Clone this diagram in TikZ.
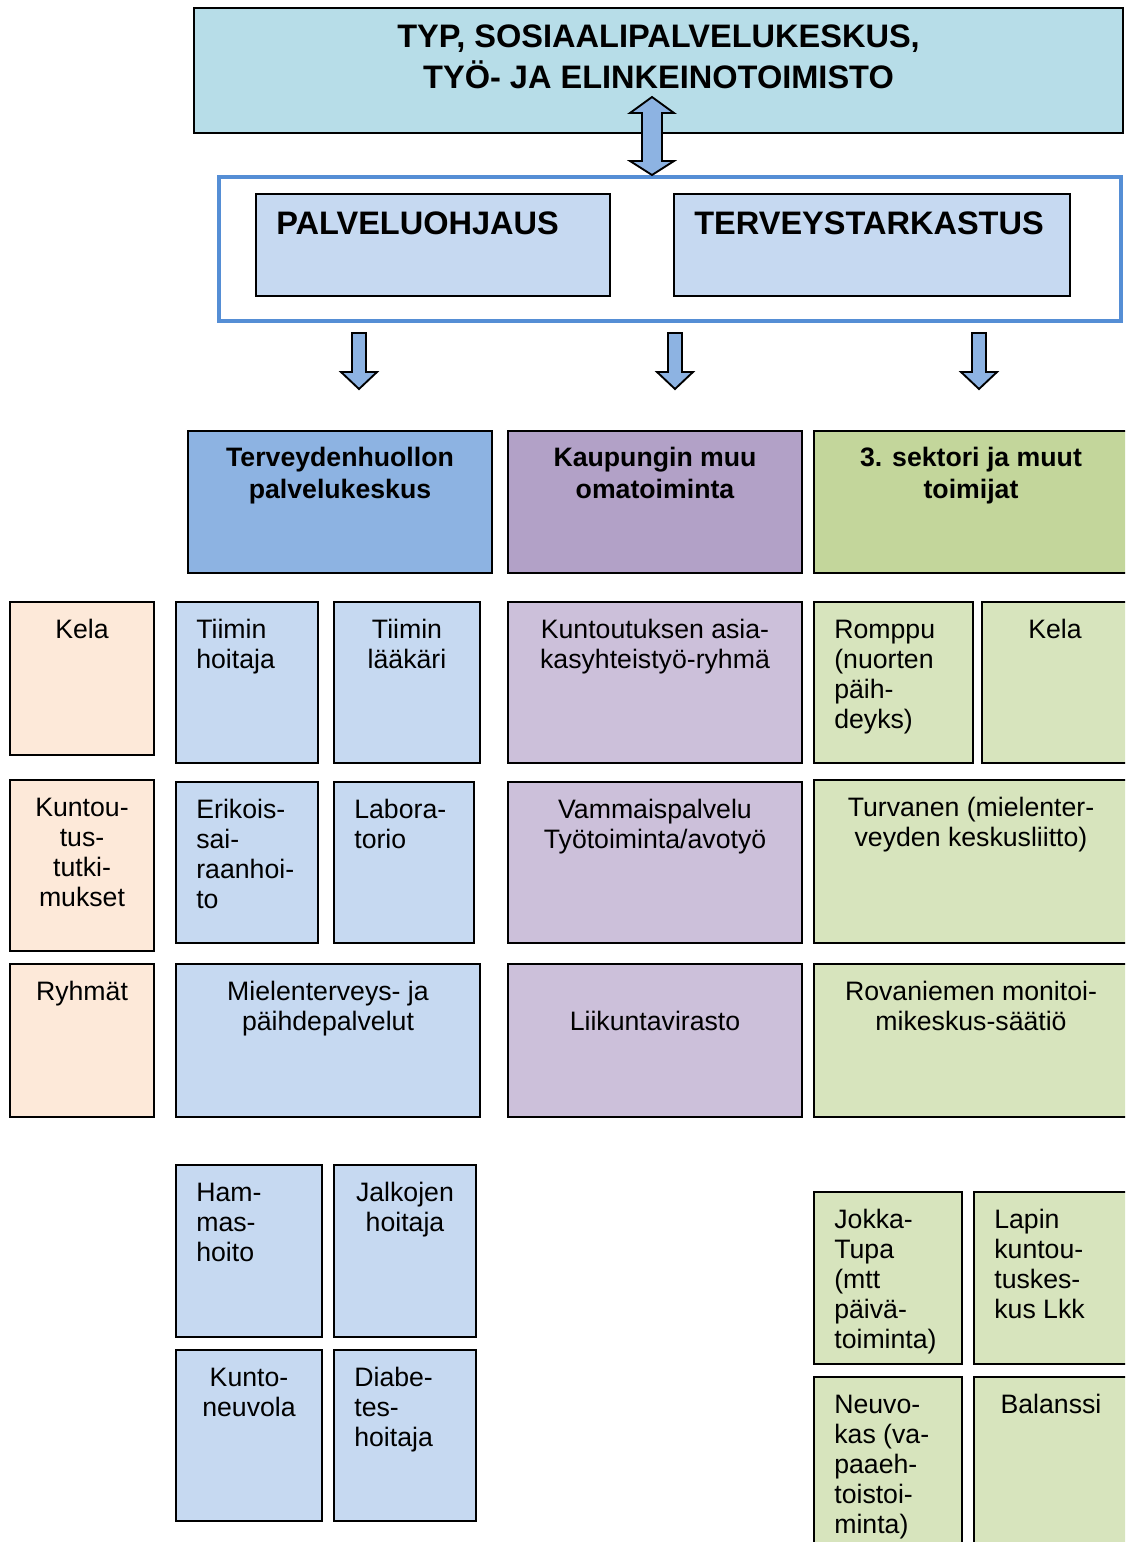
\documentclass[tikz,border=0pt]{standalone}
\usepackage{fontspec}
\setmainfont{Liberation Sans}
\usetikzlibrary{fit}
\definecolor{topc}{HTML}{B7DDE8}
\definecolor{framec}{HTML}{558ED5}
\definecolor{lblue}{HTML}{C6D9F1}
\definecolor{hblue}{HTML}{8DB3E2}
\definecolor{hpurp}{HTML}{B2A1C7}
\definecolor{hgreen}{HTML}{C3D69B}
\definecolor{peach}{HTML}{FDE9D9}
\definecolor{lpurp}{HTML}{CCC0DA}
\definecolor{lgreen}{HTML}{D7E4BD}
\newcommand\mkbox[6]{\node[boxst, fill=#6, fit={(#2,#3)(#4,#5)}] (#1) {};}
\newcommand\ltext[3]{\node[txt, anchor=north west] (t-#1) at ([shift={(21,16)}]#1.north west) {\strut #2};}
\newcommand\ctext[3]{\node[txt, anchor=north, align=center] (t-#1) at ([shift={(#3,16)}]#1.north) {\strut #2};}
\newcommand\downarr[2]{%
  \coordinate (#1) at (#2,333);
  \draw[arrowst] ([shift={(-7,0)}]#1) -- ([shift={(7,0)}]#1) -- ([shift={(7,39)}]#1) -- ([shift={(18,39)}]#1) -- ([shift={(0,56)}]#1) -- ([shift={(-18,39)}]#1) -- ([shift={(-7,39)}]#1) -- cycle;}
\begin{document}
\begin{tikzpicture}[x=0.75pt,y=-0.75pt,
  boxst/.style={draw=black, line width=1.4pt, inner sep=0pt},
  txt/.style={inner sep=0pt, font=\fontsize{20}{22.5}\selectfont, align=left},
  hdr/.style={inner sep=0pt, font=\fontsize{20}{24}\selectfont\bfseries, align=center, anchor=north},
  ttl/.style={inner sep=0pt, font=\fontsize{24.4}{28.5}\selectfont\bfseries},
  arrowst/.style={draw=black, line width=1.4pt, fill=hblue, line join=miter}]
\path[use as bounding box, clip] (0,0) rectangle (1125,1542);
\fill[white] (0,0) rectangle (1125,1542);

% top box and frame
\mkbox{top}{194}{8}{1123}{133}{topc}
\node[ttl, anchor=north, align=center] (t-top) at ([shift={(0,13.8)}]top.north) {\strut TYP, SOSIAALIPALVELUKESKUS,\\TYÖ- JA ELINKEINOTOIMISTO};
\node[draw=framec, line width=2.7pt, fill=white, inner sep=0pt, fit={(219,177)(1121,321)}] (frame) {};
\mkbox{palv}{256}{194}{610}{296}{lblue}
\mkbox{terv}{674}{194}{1070}{296}{lblue}
\node[ttl, anchor=north west] (t-palv) at ([shift={(21,14.8)}]palv.north west) {\strut PALVELUOHJAUS};
\node[ttl, anchor=north west] (t-terv) at ([shift={(21,14.8)}]terv.north west) {\strut TERVEYSTARKASTUS};

% double arrow
\coordinate (da-top) at (652,97);
\coordinate (da-bot) at (652,175);
\draw[arrowst] (da-top) -- ([shift={(22,16)}]da-top) -- ([shift={(10,16)}]da-top) -- ([shift={(10,-14)}]da-bot) -- ([shift={(22,-14)}]da-bot) -- (da-bot) -- ([shift={(-22,-14)}]da-bot) -- ([shift={(-10,-14)}]da-bot) -- ([shift={(-10,16)}]da-top) -- ([shift={(-22,16)}]da-top) -- cycle;

% down arrows
\downarr{a1}{359}
\downarr{a2}{675}
\downarr{a3}{979}

% headers
\mkbox{h1}{188}{431}{492}{573}{hblue}
\mkbox{h2}{508}{431}{802}{573}{hpurp}
\mkbox{h3}{814}{431}{1128}{573}{hgreen}
\node[hdr] (t-h1) at ([shift={(0,14)}]h1.north) {\strut Terveydenhuollon\\palvelukeskus};
\node[hdr] (t-h2) at ([shift={(0,14)}]h2.north) {\strut Kaupungin muu\\omatoiminta};
\node[hdr] (t-h3) at ([shift={(0,14)}]h3.north) {\strut 3. sektori ja muut\\toimijat};

% row 1
\mkbox{kela1}{10}{602}{154}{755}{peach}
\mkbox{hoit}{176}{602}{318}{763}{lblue}
\mkbox{laak}{334}{602}{480}{763}{lblue}
\mkbox{kunt}{508}{602}{802}{763}{lpurp}
\mkbox{romp}{814}{602}{973}{763}{lgreen}
\mkbox{kela2}{982}{602}{1128}{763}{lgreen}
\ctext{kela1}{Kela}{0}
\ltext{hoit}{Tiimin\\hoitaja}{}
\ctext{laak}{Tiimin\\lääkäri}{0}
\ctext{kunt}{Kuntoutuksen asia-\\kasyhteistyö-ryhmä}{0}
\ltext{romp}{Romppu\\(nuorten\\päih-\\deyks)}{}
\ctext{kela2}{Kela}{0}

% row 2
\mkbox{tutk}{10}{780}{154}{951}{peach}
\mkbox{erik}{176}{782}{318}{943}{lblue}
\mkbox{lab}{334}{782}{474}{943}{lblue}
\mkbox{vamm}{508}{782}{802}{943}{lpurp}
\mkbox{turv}{814}{780}{1128}{943}{lgreen}
\ctext{tutk}{Kuntou-\\tus-\\tutki-\\mukset}{0}
\ltext{erik}{Erikois-\\sai-\\raanhoi-\\to}{}
\ltext{lab}{Labora-\\torio}{}
\ctext{vamm}{Vammaispalvelu\\Työtoiminta/avotyö}{0}
\ctext{turv}{Turvanen (mielenter-\\veyden keskusliitto)}{0}

% row 3
\mkbox{ryhm}{10}{964}{154}{1117}{peach}
\mkbox{miel}{176}{964}{480}{1117}{lblue}
\mkbox{liik}{508}{964}{802}{1117}{lpurp}
\mkbox{rova}{814}{964}{1128}{1117}{lgreen}
\ctext{ryhm}{Ryhmät}{0}
\ctext{miel}{Mielenterveys- ja\\päihdepalvelut}{0}
\node[txt, anchor=north] (t-liik) at ([shift={(0,46)}]liik.north) {\strut Liikuntavirasto};
\ctext{rova}{Rovaniemen monitoi-\\mikeskus-säätiö}{0}

% lower left
\mkbox{hamm}{176}{1165}{322}{1337}{lblue}
\mkbox{jalk}{334}{1165}{476}{1337}{lblue}
\mkbox{kneu}{176}{1350}{322}{1521}{lblue}
\mkbox{diab}{334}{1350}{476}{1521}{lblue}
\ltext{hamm}{Ham-\\mas-\\hoito}{}
\ctext{jalk}{Jalkojen\\hoitaja}{0}
\ctext{kneu}{Kunto-\\neuvola}{0}
\ltext{diab}{Diabe-\\tes-\\hoitaja}{}

% lower right
\mkbox{jokk}{814}{1192}{962}{1364}{lgreen}
\mkbox{lapi}{974}{1192}{1128}{1364}{lgreen}
\mkbox{neuv}{814}{1377}{962}{1560}{lgreen}
\mkbox{bala}{974}{1377}{1128}{1560}{lgreen}
\ltext{jokk}{Jokka-\\Tupa\\(mtt\\päivä-\\toiminta)}{}
\ltext{lapi}{Lapin\\kuntou-\\tuskes-\\kus Lkk}{}
\ltext{neuv}{Neuvo-\\kas (va-\\paaeh-\\toistoi-\\minta)}{}
\ctext{bala}{Balanssi}{0}
\end{tikzpicture}
\end{document}
